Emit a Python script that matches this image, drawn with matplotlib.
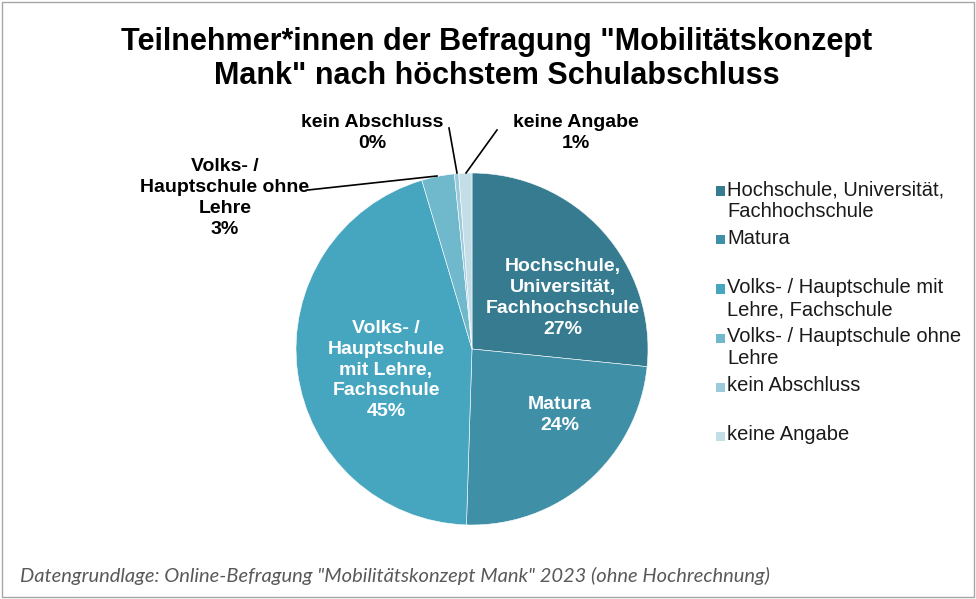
import matplotlib
matplotlib.use("Agg")
from matplotlib import pyplot as plt
from matplotlib.patches import Rectangle

# data
categories = ["Hochschule, Universität,\nFachhochschule", "Matura",
              "Volks- / Hauptschule mit\nLehre, Fachschule",
              "Volks- / Hauptschule ohne\nLehre", "kein Abschluss", "keine Angabe"]
pie_labels = ["Hochschule,\nUniversität,\nFachhochschule", "Matura",
              "Volks- /\nHauptschule\nmit Lehre,\nFachschule",
              "Volks- /\nHauptschule ohne\nLehre", "kein Abschluss", "keine Angabe"]
shares = [26.6, 23.9, 44.9, 3.0, 0.4, 1.2]
colors = ["#367b8f", "#3f8fa7", "#47a6bf", "#70b8cc", "#9dcadb", "#c4dee7"]

W, H = 976, 599
fig = plt.figure(figsize=(W / 100, H / 100), dpi=100)
plt.rcParams['font.family'] = ['Liberation Sans', 'DejaVu Sans']

# frame around the chart
fig.add_artist(Rectangle((2 / W, 2 / H), 1 - 4 / W, 1 - 4 / H, transform=fig.transFigure,
                         fill=False, edgecolor="#a6a6a6", linewidth=1))

cx, cy, r = 472, 349, 176
ax = fig.add_axes([(cx - r) / W, (H - cy - r) / H, 2 * r / W, 2 * r / H])
wedges, _ = ax.pie(shares, colors=colors, startangle=90, counterclock=False,
                   wedgeprops=dict(edgecolor="white", linewidth=0.4))
ax.set_xlim(-1, 1)
ax.set_ylim(-1, 1)
ax.set_aspect("auto")

def px(x, y):
    return ((x - cx) / r, (cy - y) / r)

# inside labels (white)
inside = {0: (563, 298), 1: (560, 415), 2: (386, 370)}
for i, (x, y) in inside.items():
    ax.text(*px(x, y), f"{pie_labels[i]}\n{shares[i]:.0f}%", color="white", fontsize=14,
            fontweight="bold", ha="center", va="center", linespacing=1.3)

# outside labels with leader lines
outside = {3: ((225, 198), (308, 190), (437, 176)),
           4: ((372, 133), (449, 128), (457, 173)),
           5: ((576, 133), (497, 130), (466, 173))}
for i, (pos, l0, l1) in outside.items():
    ax.text(*px(*pos), f"{pie_labels[i]}\n{shares[i]:.0f}%", color="black", fontsize=14,
            fontweight="bold", ha="center", va="center", linespacing=1.3, clip_on=False)
    x0, y0 = px(*l0)
    x1, y1 = px(*l1)
    ax.plot([x0, x1], [y0, y1], color="black", linewidth=1.2, clip_on=False)

# title
fig.text(497 / W, 1 - 59 / H, 'Teilnehmer*innen der Befragung "Mobilitätskonzept\nMank" nach höchstem Schulabschluss',
         ha="center", va="center", fontsize=22, fontweight="bold", linespacing=1.15)

# legend
for i, lab in enumerate(categories):
    y = 191 + 49 * i
    fig.add_artist(Rectangle((716 / W, 1 - (y + 4.5) / H), 9 / W, 9 / H, transform=fig.transFigure,
                             facecolor=colors[i], edgecolor="none"))
    fig.text(727 / W, 1 - (y - 11) / H, lab, ha="left", va="top", fontsize=14.5,
             color="#1a1a1a", linespacing=1.22)

# source note
fig.text(20 / W, 1 - 576 / H,
         'Datengrundlage: Online-Befragung "Mobilitätskonzept Mank" 2023 (ohne Hochrechnung)',
         ha="left", va="center", fontsize=14.5, style="italic", color="#595959",
         family=["Lato", "DejaVu Sans"])

fig.savefig("out.png", dpi=100)
